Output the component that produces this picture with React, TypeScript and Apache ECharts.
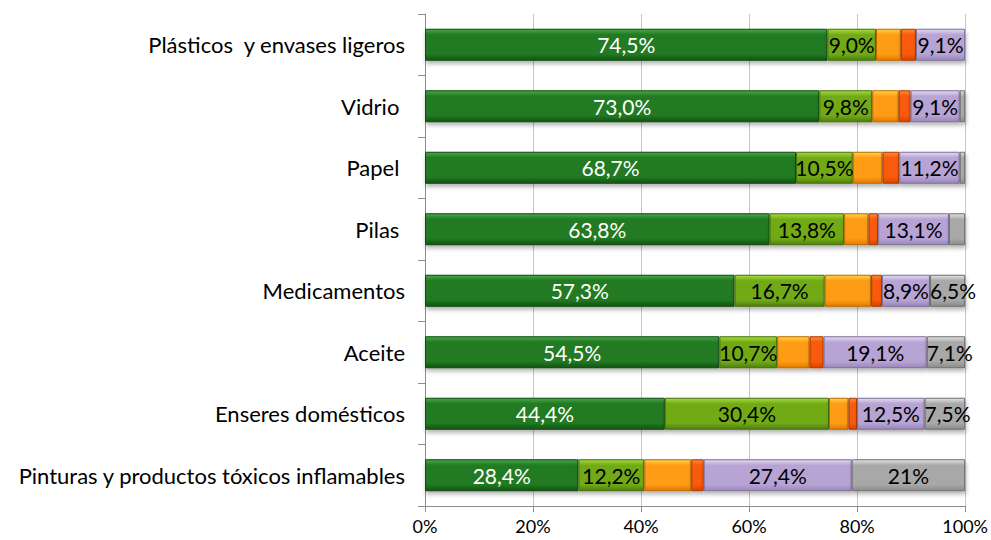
import React, { useEffect, useRef } from "react";
import * as echarts from "echarts";

const categories = [
  "Pinturas y productos tóxicos inflamables",
  "Enseres domésticos",
  "Aceite",
  "Medicamentos",
  "Pilas ",
  "Papel ",
  "Vidrio ",
  "Plásticos  y envases ligeros",
];

const seriesNames = ["S1", "S2", "S3", "S4", "S5", "S6"];
const darkGreen = [28.4, 44.4, 54.5, 57.3, 63.8, 68.7, 73.0, 74.5];
const lightGreen = [12.2, 30.4, 10.7, 16.7, 13.8, 10.5, 9.8, 9.0];
const orange = [8.7, 3.6, 6.0, 8.6, 4.5, 5.5, 4.9, 4.6];
const red = [2.3, 1.6, 2.6, 2.0, 1.8, 3.1, 2.2, 2.8];
const lavender = [27.4, 12.5, 19.1, 8.9, 13.1, 11.2, 9.1, 9.1];
const gray = [21.0, 7.5, 7.1, 6.5, 3.0, 1.0, 1.0, 0];
const grayLabels = ["21%", "7,5%", "7,1%", "6,5%", "", "", "", ""];
const xTicks = [0, 20, 40, 60, 80, 100];

const FONT = "Lato";

const palette = [
  { light: "#4aa84a", mid: "#217a21", dark: "#125412", border: "#0f4a0f", label: "#ffffff", show: true },
  { light: "#a6dc3a", mid: "#72aa18", dark: "#4f800c", border: "#456f0c", label: "#000000", show: true },
  { light: "#ffd34a", mid: "#ff9c12", dark: "#e07a00", border: "#b86a00", label: "#000000", show: false },
  { light: "#ff8a3a", mid: "#fa5a08", dark: "#d84400", border: "#a83a00", label: "#000000", show: false },
  { light: "#e4daf2", mid: "#b7a4d4", dark: "#9a86bb", border: "#7e6f99", label: "#000000", show: true },
  { light: "#e2e2e2", mid: "#a8a8a8", dark: "#8a8a8a", border: "#707070", label: "#000000", show: true },
];

const fmt = (v: number) => v.toFixed(1).replace(".", ",") + "%";

export default function App() {
  const ref = useRef<HTMLDivElement>(null);
  useEffect(() => {
    if (!ref.current) return;
    const chart = echarts.init(ref.current, undefined, { renderer: "svg" });
    const dataSets = [darkGreen, lightGreen, orange, red, lavender, gray];
    const series = dataSets.map((d, i) => {
      const p = palette[i];
      const data =
        i === 5
          ? d.map((v) =>
              v > 0 && v < 10
                ? { value: v, label: { position: "insideLeft", distance: 0 } }
                : v
            )
          : d;
      return {
        name: seriesNames[i],
        type: "bar",
        stack: "total",
        barWidth: 32,
        data,
        itemStyle: {
          color: new echarts.graphic.LinearGradient(0, 0, 0, 1, [
            { offset: 0, color: p.light },
            { offset: 0.18, color: p.mid },
            { offset: 0.8, color: p.mid },
            { offset: 1, color: p.dark },
          ]),
          borderColor: p.border,
          borderWidth: 1,
          shadowColor: "rgba(0,0,0,0.3)",
          shadowBlur: 4,
          shadowOffsetX: 1,
          shadowOffsetY: 3,
        },
        label: {
          show: p.show,
          position: "inside",
          color: p.label,
          fontFamily: FONT,
          fontSize: 21,
          formatter: (params: any) => {
            if (i === 5) return grayLabels[params.dataIndex];
            return params.value > 0 ? fmt(params.value) : "";
          },
        },
      };
    });
    chart.setOption({
      animation: false,
      backgroundColor: "#ffffff",
      grid: { left: 425, right: 23, top: 14, bottom: 34, containLabel: false },
      xAxis: {
        type: "value",
        min: 0,
        max: 100,
        interval: 20,
        axisLine: { show: true, lineStyle: { color: "#8c8c8c" } },
        axisTick: { show: true, length: 6, lineStyle: { color: "#8c8c8c" } },
        splitLine: { show: true, lineStyle: { color: "#c6c6c6", width: 1 } },
        axisLabel: {
          fontFamily: FONT,
          fontSize: 18,
          color: "#000",
          margin: 11,
          formatter: (v: number) => (xTicks.includes(v) ? `${v}%` : ""),
        },
      },
      yAxis: {
        type: "category",
        data: categories,
        axisLine: { show: true, lineStyle: { color: "#8c8c8c" } },
        axisTick: { show: true, length: 7, lineStyle: { color: "#8c8c8c" } },
        axisLabel: {
          fontFamily: FONT,
          fontSize: 22,
          color: "#000",
          margin: 20,
        },
        splitLine: { show: false },
      },
      series,
    });
    return () => chart.dispose();
  }, []);
  return <div ref={ref} style={{ width: 991, height: 540, position: "absolute", left: 0, top: 0 }} />;
}
